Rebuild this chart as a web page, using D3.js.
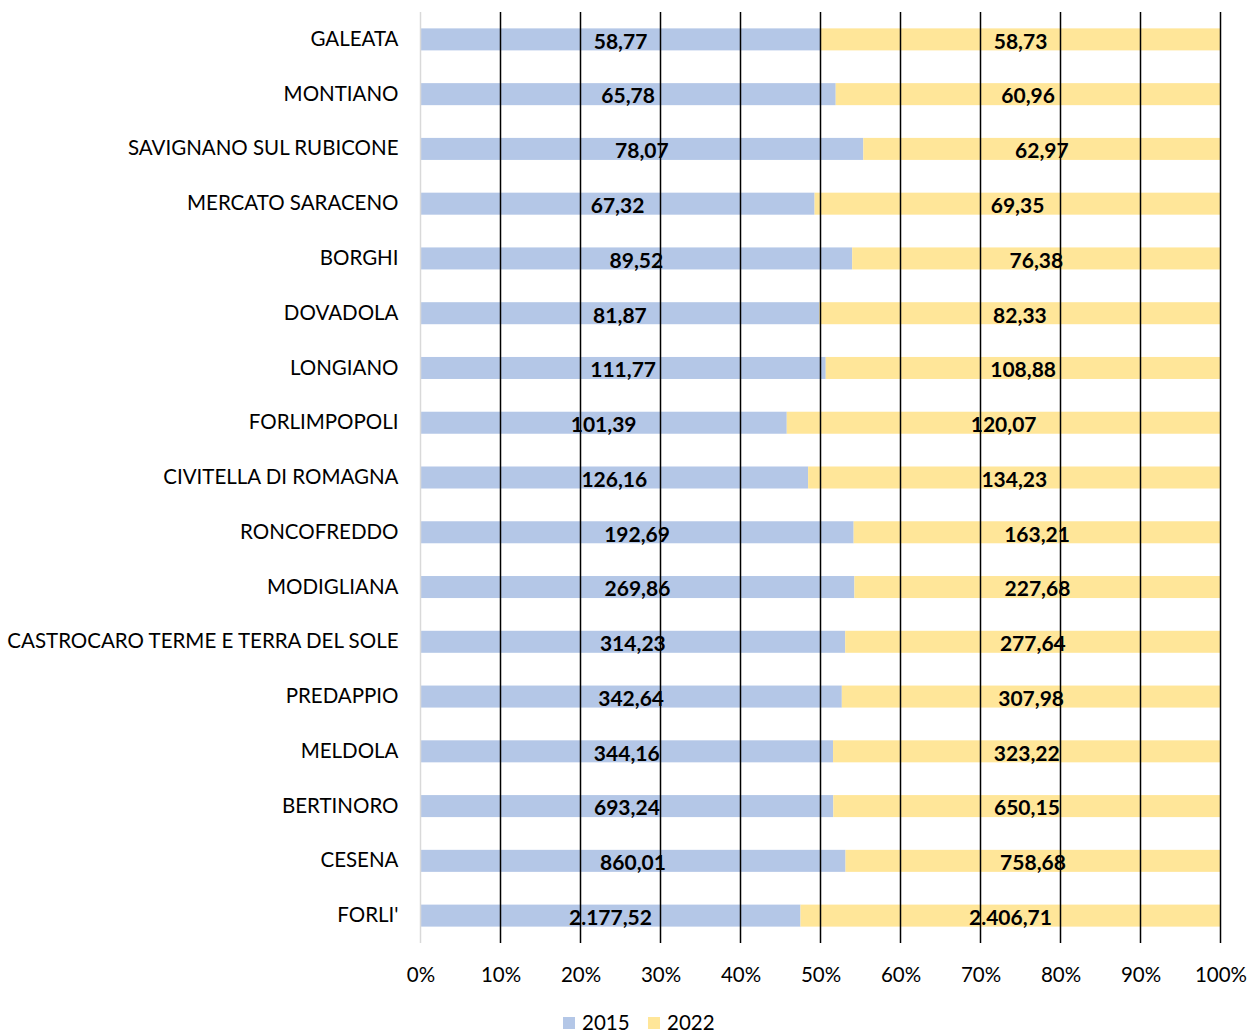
<!DOCTYPE html>
<html>
<head>
<meta charset="utf-8">
<script src="https://cdn.jsdelivr.net/npm/d3@7"></script>
<style>
  body { margin: 0; background: #fff; }
  text { font-family: Lato, "Open Sans", sans-serif; }
</style>
</head>
<body>
<div id="chart"></div>
<script>
// Data
const comuni = [
    "GALEATA", "MONTIANO", "SAVIGNANO SUL RUBICONE", "MERCATO SARACENO", "BORGHI",
    "DOVADOLA", "LONGIANO", "FORLIMPOPOLI", "CIVITELLA DI ROMAGNA", "RONCOFREDDO",
    "MODIGLIANA", "CASTROCARO TERME E TERRA DEL SOLE", "PREDAPPIO", "MELDOLA",
    "BERTINORO", "CESENA", "FORLI'"
];
const values2015 = [58.77, 65.78, 78.07, 67.32, 89.52, 81.87, 111.77, 101.39, 126.16,
    192.69, 269.86, 314.23, 342.64, 344.16, 693.24, 860.01, 2177.52];
const values2022 = [58.73, 60.96, 62.97, 69.35, 76.38, 82.33, 108.88, 120.07, 134.23,
    163.21, 227.68, 277.64, 307.98, 323.22, 650.15, 758.68, 2406.71];
const seriesNames = ["2015", "2022"];
const colors = ["#b4c7e7", "#ffe699"];
const tickValues = [0, 0.1, 0.2, 0.3, 0.4, 0.5, 0.6, 0.7, 0.8, 0.9, 1];

const width = 1248;
const height = 1035;

const svg = d3.select("#chart")
    .append("svg")
    .attr("width", width)
    .attr("height", height);

// build rows for the stack
const rows = comuni.map((c, i) => ({ comune: c, "2015": values2015[i], "2022": values2022[i] }));
const stacked = d3.stack().keys(seriesNames).offset(d3.stackOffsetExpand)(rows);

const x = d3.scaleLinear().domain([0, 1]).range([420.5, 1220.5]);
const y = d3.scaleBand().domain(comuni).range([12, 943])
    .paddingInner(0.598).paddingOuter(0.299);

const itFormat = d3.formatLocale({ decimal: ",", thousands: ".", grouping: [3], currency: ["", "€"] })
    .format(",.2f");

// bars
const layer = svg.append("g")
    .selectAll("g")
    .data(stacked)
    .enter().append("g")
    .attr("fill", (d, i) => colors[i]);

layer.selectAll("rect")
    .data(d => d)
    .enter().append("rect")
    .attr("x", d => x(d[0]))
    .attr("y", d => y(d.data.comune))
    .attr("width", d => x(d[1]) - x(d[0]))
    .attr("height", y.bandwidth());

// gridlines (drawn over the bars, like the reference)
svg.append("g")
    .selectAll("line")
    .data(tickValues.slice(1))
    .enter().append("line")
    .attr("x1", d => x(d))
    .attr("x2", d => x(d))
    .attr("y1", 12)
    .attr("y2", 943)
    .attr("stroke", "#000")
    .attr("stroke-width", 1.5);

// vertical category axis line
svg.append("line")
    .attr("x1", x(0)).attr("x2", x(0))
    .attr("y1", 12).attr("y2", 943)
    .attr("stroke", "#d9d9d9")
    .attr("stroke-width", 1.5);

// value labels
layer.selectAll("text")
    .data(d => d)
    .enter().append("text")
    .attr("x", d => (x(d[0]) + x(d[1])) / 2)
    .attr("y", d => y(d.data.comune) + y.bandwidth() / 2 + 2)
    .attr("dy", "0.35em")
    .attr("text-anchor", "middle")
    .attr("font-size", 21)
    .attr("font-weight", "bold")
    .attr("fill", "#000")
    .text((d, i, nodes) => {
        const key = d3.select(nodes[i].parentNode).datum().key;
        return itFormat(d.data[key]);
    });

// category labels
const yAxis = svg.append("g")
    .attr("transform", `translate(${x(0)},0)`)
    .call(d3.axisLeft(y).tickSize(0).tickPadding(22));
yAxis.select(".domain").remove();
yAxis.selectAll("text")
    .attr("font-size", 20.5)
    .attr("fill", "#000")
    .style("font-family", "Lato, 'Open Sans', sans-serif");

// percentage axis
const xAxis = svg.append("g")
    .attr("transform", "translate(0,943)")
    .call(d3.axisBottom(x).tickValues(tickValues).tickFormat(d3.format(".0%")).tickSize(0).tickPadding(24));
xAxis.select(".domain").remove();
xAxis.selectAll("text")
    .attr("font-size", 20.5)
    .attr("fill", "#000")
    .style("font-family", "Lato, 'Open Sans', sans-serif");

// legend (sits right at the bottom edge, like the reference)
const legend = svg.append("g")
    .selectAll("g")
    .data(seriesNames)
    .enter().append("g")
    .attr("transform", (d, i) => `translate(${563 + i * 85},1017)`);

legend.append("rect")
    .attr("width", 12)
    .attr("height", 12)
    .attr("fill", (d, i) => colors[i]);

legend.append("text")
    .attr("x", 19)
    .attr("y", 6)
    .attr("dy", "0.35em")
    .attr("font-size", 20.5)
    .attr("fill", "#000")
    .text(d => d);
</script>
</body>
</html>
